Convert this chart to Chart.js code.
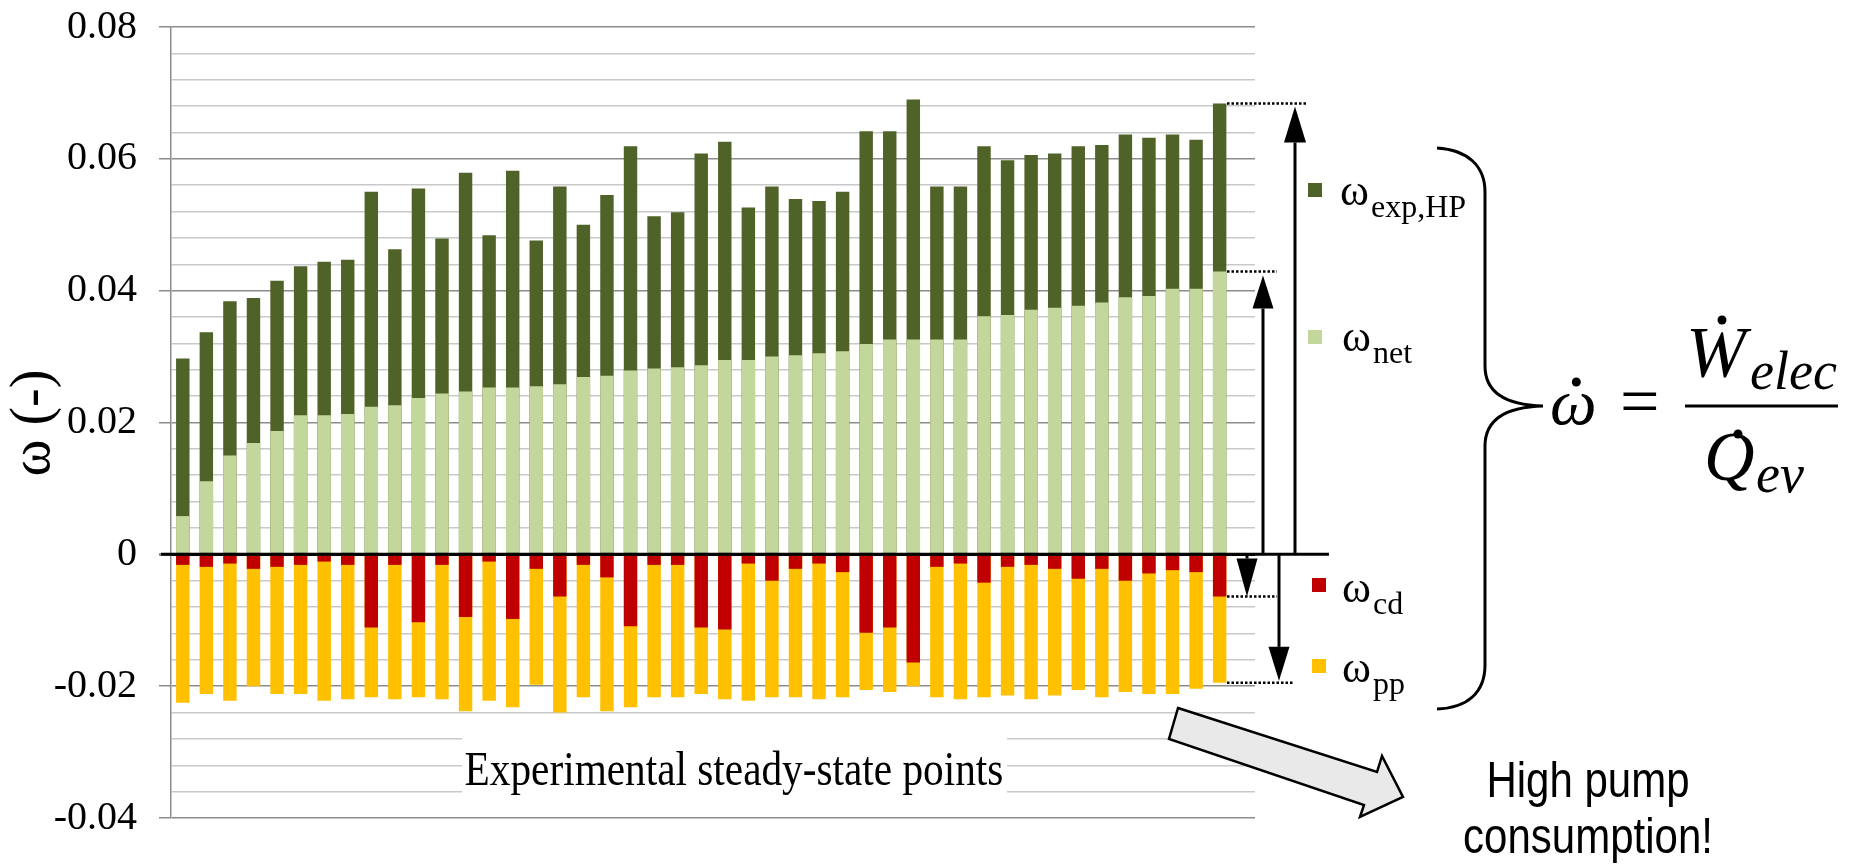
<!DOCTYPE html>
<html lang="en">
<head>
  <meta charset="UTF-8" />
  <title>ω per experimental steady-state point</title>
  <script src="https://cdn.jsdelivr.net/npm/chart.js"></script>
  <style>
    html,body{margin:0;padding:0;background:#fff;overflow:hidden;}
    #wrap{position:relative;width:1853px;height:864px;}
  </style>
</head>
<body>
  <div id="wrap"><canvas id="omegaChart" width="1853" height="864"></canvas></div>

<script>
  // Experimental steady-state points (the sheet had one empty slot after the last point)
  const points = ['1','2','3','4','5','6','7','8','9','10','11','12','13','14','15','16','17','18','19','20',
    '21','22','23','24','25','26','27','28','29','30','31','32','33','34','35','36','37','38','39','40',
    '41','42','43','44','45',''];

  // top of dark bar = expander (HP) ratio, top of light bar = net ratio
  const omegaExpHP = [0.0297,0.0337,0.0384,0.0389,0.0415,0.0437,0.0444,0.0447,0.0550,0.0463,
    0.0555,0.0479,0.0579,0.0484,0.0582,0.0476,0.0558,0.0500,0.0545,0.0619,
    0.0513,0.0519,0.0608,0.0626,0.0526,0.0558,0.0539,0.0536,0.0550,0.0642,
    0.0642,0.0690,0.0558,0.0558,0.0619,0.0598,0.0606,0.0608,0.0619,0.0621,
    0.0637,0.0632,0.0637,0.0629,0.0684,null];
  const omegaNet = [0.0058,0.0111,0.0150,0.0169,0.0187,0.0211,0.0211,0.0213,0.0224,0.0226,
    0.0237,0.0244,0.0247,0.0253,0.0253,0.0255,0.0258,0.0269,0.0271,0.0279,
    0.0282,0.0284,0.0287,0.0295,0.0295,0.0300,0.0302,0.0305,0.0308,0.0319,
    0.0326,0.0326,0.0326,0.0326,0.0361,0.0363,0.0371,0.0374,0.0377,0.0382,
    0.0390,0.0392,0.0403,0.0403,0.0429,null];
  // bottom of red bar = condenser fan, bottom of yellow bar = pump (+ fan)
  const omegaCd = [-0.0016,-0.0019,-0.0014,-0.0022,-0.0019,-0.0016,-0.0011,-0.0016,-0.0111,-0.0016,
    -0.0103,-0.0016,-0.0095,-0.0011,-0.0098,-0.0022,-0.0064,-0.0016,-0.0035,-0.0109,
    -0.0016,-0.0016,-0.0111,-0.0114,-0.0014,-0.0040,-0.0022,-0.0014,-0.0027,-0.0119,
    -0.0111,-0.0164,-0.0019,-0.0014,-0.0043,-0.0019,-0.0016,-0.0022,-0.0037,-0.0022,
    -0.0040,-0.0029,-0.0024,-0.0027,-0.0064,null];
  const omegaPp = [-0.0225,-0.0212,-0.0222,-0.0200,-0.0212,-0.0212,-0.0222,-0.0220,-0.0217,-0.0220,
    -0.0217,-0.0220,-0.0238,-0.0222,-0.0232,-0.0198,-0.0240,-0.0217,-0.0238,-0.0232,
    -0.0217,-0.0217,-0.0212,-0.0220,-0.0222,-0.0217,-0.0217,-0.0220,-0.0217,-0.0206,
    -0.0209,-0.0200,-0.0217,-0.0220,-0.0217,-0.0214,-0.0220,-0.0214,-0.0206,-0.0217,
    -0.0209,-0.0212,-0.0212,-0.0204,-0.0195,null];

  const yMajor = [-0.04,-0.02,0,0.02,0.04,0.06,0.08];
  const yMinorStep = 0.004;
  const isMajor = v => yMajor.some(m => Math.abs(m - v) < 1e-9);

  const serif = '"Liberation Serif", "Times New Roman", serif';

  function arrow(ctx, x, yFrom, yTip, head, half) {
    const dir = Math.sign(yTip - yFrom);
    ctx.beginPath(); ctx.moveTo(x, yFrom); ctx.lineTo(x, yTip - dir * head); ctx.stroke();
    ctx.beginPath(); ctx.moveTo(x, yTip);
    ctx.lineTo(x - half, yTip - dir * head); ctx.lineTo(x + half, yTip - dir * head);
    ctx.closePath(); ctx.fill();
  }
  function dotted(ctx, x1, x2, yy) {
    ctx.save(); ctx.setLineDash([2.5, 2]); ctx.lineWidth = 2.5;
    ctx.beginPath(); ctx.moveTo(x1, yy); ctx.lineTo(x2, yy); ctx.stroke(); ctx.restore();
  }
  function squeezed(ctx, text, cx, base, sx) {
    ctx.save(); ctx.translate(cx, base); ctx.scale(sx, 1);
    ctx.textAlign = 'center'; ctx.fillText(text, 0, 0); ctx.restore();
  }

  const annotations = {
    id: 'annotations',
    afterDraw(chart) {
      const {ctx} = chart, y = chart.scales.y;
      const last = points.length - 2;
      const y0 = y.getPixelForValue(0);
      const yHP = y.getPixelForValue(omegaExpHP[last]);
      const yNet = y.getPixelForValue(omegaNet[last]);
      const yCd = y.getPixelForValue(omegaCd[last]);
      const yPp = y.getPixelForValue(omegaPp[last]);
      ctx.save();
      ctx.fillStyle = '#000'; ctx.strokeStyle = '#000';

      // zero line over the bars, running out to the arrows
      ctx.lineWidth = 3;
      ctx.beginPath(); ctx.moveTo(161, y0); ctx.lineTo(1329, y0); ctx.stroke();

      // axis title
      ctx.save(); ctx.translate(34, 423); ctx.rotate(-Math.PI / 2);
      ctx.font = '56px ' + serif; ctx.textAlign = 'center'; ctx.textBaseline = 'middle';
      ctx.fillText('ω (-)', 0, 0); ctx.restore();

      // category caption sitting on a white box over the lower gridlines
      ctx.fillStyle = '#fff'; ctx.fillRect(462, 721, 545, 86);
      ctx.fillStyle = '#000'; ctx.font = '48px ' + serif;
      squeezed(ctx, 'Experimental steady-state points', 734, 785, 0.86);

      // dotted markers + arrows on the last point
      dotted(ctx, 1227, 1307, yHP);
      dotted(ctx, 1227, 1277, yNet);
      dotted(ctx, 1227, 1277, yCd);
      dotted(ctx, 1227, 1293, yPp);
      ctx.lineWidth = 3;
      arrow(ctx, 1295, y0, yHP + 3, 36, 11);
      arrow(ctx, 1263, y0, yNet + 4, 33, 10.5);
      arrow(ctx, 1247, y0, yCd, 38, 10.5);
      arrow(ctx, 1279, y0, yPp - 2, 34, 10.5);

      // legend
      const ds = chart.data.datasets;
      const rows = [
        {c: ds[1].backgroundColor, sub: 'exp,HP', sx: 1308, sy: 183, tx: 1340, base: 205},
        {c: ds[0].backgroundColor, sub: 'net',    sx: 1308, sy: 330, tx: 1342, base: 351},
        {c: ds[2].backgroundColor, sub: 'cd',     sx: 1312, sy: 578, tx: 1342, base: 602},
        {c: ds[3].backgroundColor, sub: 'pp',     sx: 1312, sy: 659, tx: 1342, base: 682}
      ];
      ctx.textAlign = 'left';
      rows.forEach(r => {
        ctx.fillStyle = r.c; ctx.fillRect(r.sx, r.sy, 14, 14);
        ctx.fillStyle = '#000';
        ctx.font = '44px ' + serif; ctx.fillText('ω', r.tx, r.base);
        const w = ctx.measureText('ω').width;
        ctx.font = '32px ' + serif; ctx.fillText(r.sub, r.tx + w + 2, r.base + 12);
      });

      // brace
      ctx.lineWidth = 3;
      ctx.beginPath();
      ctx.moveTo(1437, 148);
      ctx.bezierCurveTo(1468, 150, 1485, 166, 1485, 192);
      ctx.lineTo(1485, 366);
      ctx.bezierCurveTo(1485, 392, 1505, 405, 1543, 406);
      ctx.moveTo(1543, 406);
      ctx.bezierCurveTo(1505, 407, 1485, 420, 1485, 446);
      ctx.lineTo(1485, 665);
      ctx.bezierCurveTo(1485, 692, 1468, 708, 1437, 709);
      ctx.stroke();

      // formula
      ctx.font = 'italic 66px ' + serif;
      ctx.fillText('ω', 1550, 424);
      const ww = ctx.measureText('ω').width;
      ctx.beginPath(); ctx.arc(1550 + ww / 2 + 3, 382, 4.5, 0, Math.PI * 2); ctx.fill();
      ctx.font = '70px ' + serif; ctx.fillText('=', 1620, 425);
      ctx.beginPath(); ctx.moveTo(1685, 406); ctx.lineTo(1838, 406); ctx.stroke();
      ctx.font = 'italic 72px ' + serif; ctx.fillText('W', 1686, 376);
      ctx.beginPath(); ctx.arc(1722, 320, 4.5, 0, Math.PI * 2); ctx.fill();
      ctx.font = 'italic 54px ' + serif; ctx.fillText('elec', 1750, 389);
      ctx.font = 'italic 70px ' + serif; ctx.fillText('Q', 1704, 480);
      ctx.beginPath(); ctx.arc(1738, 434, 4.5, 0, Math.PI * 2); ctx.fill();
      ctx.font = 'italic 54px ' + serif; ctx.fillText('ev', 1756, 492);

      // grey block arrow
      ctx.beginPath();
      ctx.moveTo(1178, 708); ctx.lineTo(1377, 772); ctx.lineTo(1382, 756); ctx.lineTo(1403, 797);
      ctx.lineTo(1360, 817); ctx.lineTo(1364, 805); ctx.lineTo(1169, 739); ctx.closePath();
      ctx.fillStyle = '#e9e9e9'; ctx.fill();
      ctx.lineWidth = 2.5; ctx.stroke();

      ctx.fillStyle = '#000';
      ctx.font = '50px "Liberation Sans", Arial, sans-serif';
      squeezed(ctx, 'High pump', 1588, 797, 0.84);
      squeezed(ctx, 'consumption!', 1588, 853, 0.84);
      ctx.restore();
    }
  };

  const barOpts = {barPercentage: .57, categoryPercentage: 1, borderWidth: 0};

  new Chart(document.getElementById('omegaChart').getContext('2d'), {
    type: 'bar',
    data: {
      labels: points,
      datasets: [
        Object.assign({label: 'ω net', data: omegaNet, backgroundColor: '#c3d69b'}, barOpts),
        Object.assign({label: 'ω exp,HP', data: omegaExpHP, backgroundColor: '#4f6228'}, barOpts),
        Object.assign({label: 'ω cd', data: omegaCd, backgroundColor: '#c00000'}, barOpts),
        Object.assign({label: 'ω pp', data: omegaPp, backgroundColor: '#ffc000'}, barOpts)
      ]
    },
    options: {
      responsive: false,
      animation: false,
      devicePixelRatio: 1,
      layout: {padding: {left: 0, right: 598, top: 27, bottom: 46}},
      plugins: {legend: {display: false}, tooltip: {enabled: false}},
      scales: {
        x: {display: false, stacked: true},
        y: {
          min: yMajor[0], max: yMajor[yMajor.length - 1],
          afterFit: s => { s.width = 171; s.paddingTop = 0; s.paddingBottom = 0; },
          border: {display: true, color: '#8c8c8c', width: 1.5},
          grid: {
            color: c => Math.abs(c.tick.value) < 1e-9 ? '#000' : (isMajor(c.tick.value) ? '#8c8c8c' : '#c9c9c9'),
            lineWidth: c => Math.abs(c.tick.value) < 1e-9 ? 3 : 1.5,
            tickLength: 12,
            tickColor: c => isMajor(c.tick.value) ? '#8c8c8c' : 'rgba(0,0,0,0)'
          },
          ticks: {
            stepSize: yMinorStep,
            autoSkip: false,
            padding: 22,
            color: '#000',
            font: {family: serif, size: 40},
            callback: v => isMajor(v) ? (Math.abs(v) < 1e-9 ? '0' : v.toFixed(2)) : ''
          }
        }
      }
    },
    plugins: [annotations]
  });
</script>
</body>
</html>
